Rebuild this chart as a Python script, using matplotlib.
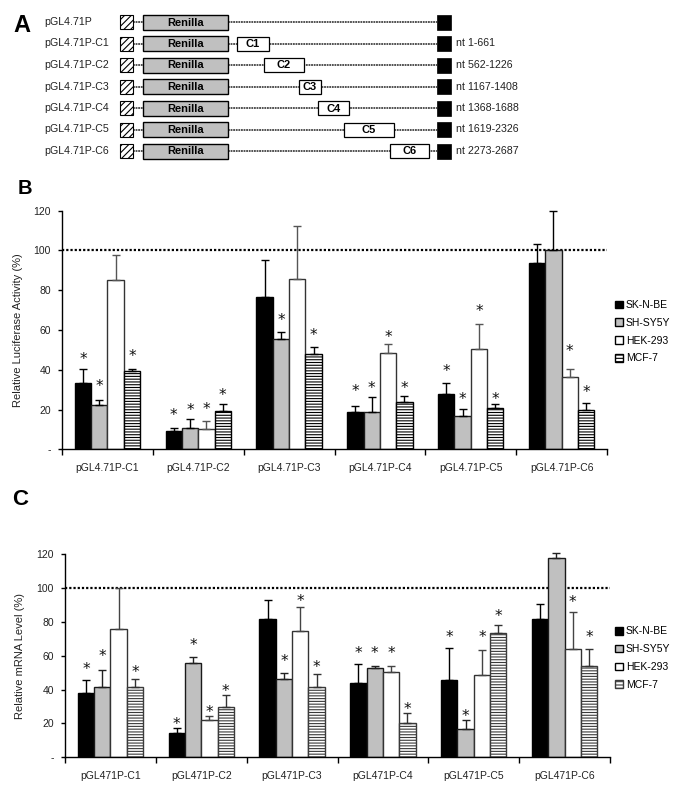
import numpy as np
import matplotlib
matplotlib.use("Agg")
import matplotlib.pyplot as plt
from matplotlib.patches import Rectangle, Patch

plt.rcParams['font.family'] = ['Liberation Sans', 'DejaVu Sans']
plt.rcParams['hatch.linewidth'] = 0.8

# ---------------- data ----------------
constructs = ['pGL4.71P', 'pGL4.71P-C1', 'pGL4.71P-C2', 'pGL4.71P-C3',
              'pGL4.71P-C4', 'pGL4.71P-C5', 'pGL4.71P-C6']
insert_names = ['', 'C1', 'C2', 'C3', 'C4', 'C5', 'C6']
nt_ranges = ['', 'nt 1-661', 'nt 562-1226', 'nt 1167-1408',
             'nt 1368-1688', 'nt 1619-2326', 'nt 2273-2687']
# schematic extents of the inserts (schematic units)
insert_start = [None, 237, 264, 299, 318, 344, 390]
insert_end = [None, 269, 304, 321, 349, 394, 429]

groups = ['pGL4.71P-C1', 'pGL4.71P-C2', 'pGL4.71P-C3',
          'pGL4.71P-C4', 'pGL4.71P-C5', 'pGL4.71P-C6']
groups_c = ['pGL471P-C1', 'pGL471P-C2', 'pGL471P-C3',
            'pGL471P-C4', 'pGL471P-C5', 'pGL471P-C6']
cell_lines = ['SK-N-BE', 'SH-SY5Y', 'HEK-293', 'MCF-7']
yticks = [0, 20, 40, 60, 80, 100, 120]
ytick_labels = ['-', '20', '40', '60', '80', '100', '120']

# Panel B: relative luciferase activity (%)
luc_sknbe = [33.5, 9.5, 76.7, 19.0, 28.0, 93.5]
luc_shsy5y = [22.3, 10.8, 55.3, 19.0, 16.8, 100.0]
luc_hek = [85.0, 10.3, 85.5, 48.3, 50.3, 36.3]
luc_mcf = [39.3, 19.3, 47.8, 24.0, 20.8, 19.7]
luc_sknbe_err = [7.2, 1.3, 18.6, 2.8, 5.5, 9.8]
luc_shsy5y_err = [2.4, 4.5, 3.9, 7.5, 3.5, 19.7]
luc_hek_err = [12.5, 4.0, 27.0, 4.5, 13.0, 4.0]
luc_mcf_err = [1.4, 3.5, 3.7, 2.8, 2.2, 3.8]
# asterisk levels (nan = no asterisk)
nan = np.nan
luc_sknbe_star = [47.5, 19.2, nan, 31.3, 41.7, nan]
luc_shsy5y_star = [34.0, 22.0, 67.2, 33.0, 27.7, nan]
luc_hek_star = [nan, 22.5, nan, 58.5, 71.7, 51.7]
luc_mcf_star = [49.0, 29.6, 59.5, 33.0, 27.7, 30.8]

# Panel C: relative mRNA level (%)
mrna_sknbe = [38.3, 14.1, 81.5, 44.0, 45.6, 81.5]
mrna_shsy5y = [41.7, 56.0, 46.2, 52.7, 16.5, 117.9]
mrna_hek = [76.0, 22.2, 74.5, 50.5, 48.5, 63.9]
mrna_mcf = [41.7, 30.0, 41.3, 20.2, 73.7, 53.8]
mrna_sknbe_err = [7.5, 3.4, 11.6, 11.0, 19.2, 8.9]
mrna_shsy5y_err = [9.8, 3.5, 3.7, 1.1, 5.3, 3.0]
mrna_hek_err = [24.0, 2.4, 14.5, 3.3, 14.8, 21.8]
mrna_mcf_err = [4.7, 7.0, 7.8, 6.1, 4.7, 10.4]
mrna_sknbe_star = [54.5, 22.4, nan, 63.9, 73.5, nan]
mrna_shsy5y_star = [62.3, 68.8, 59.3, 63.9, 27.1, nan]
mrna_hek_star = [nan, 29.5, 95.0, 63.9, 73.5, 94.1]
mrna_mcf_star = [53.0, 41.7, 55.8, 31.2, 86.2, 73.5]

# ---------------- figure ----------------
W, H = 685, 796
fig = plt.figure(figsize=(W / 100, H / 100), dpi=100)


def fx(px):
    return px / W


def fy(py):
    return 1 - py / H


# ---------- Panel A ----------
axA = fig.add_axes([0, fy(175), 1, 175 / H])
axA.set_xlim(0, W)
axA.set_ylim(175, 0)
axA.axis('off')
row0, drow = 22.0, 21.5
narrow = ['Liberation Sans Narrow', 'Liberation Sans']
for i, name in enumerate(constructs):
    y = row0 + drow * i
    axA.text(44, y, name, ha='left', va='center', fontsize=7.7, color='#222222')
    # dotted connectors
    axA.plot([133, 143], [y, y], color='#222222', lw=1.1, ls=(0, (1.2, 0.5)), zorder=1)
    axA.plot([228, 437], [y, y], color='#222222', lw=1.1, ls=(0, (1.2, 0.5)), zorder=1)
    # hatched promoter square
    axA.add_patch(Rectangle((120, y - 7), 13, 14, facecolor='white',
                            edgecolor='black', hatch='/////', lw=0.8, zorder=2))
    # Renilla box
    axA.add_patch(Rectangle((143, y - 7.5), 85, 15, facecolor='#C0C0C0',
                            edgecolor='black', lw=1, zorder=2))
    axA.text(185.5, y + 0.5, 'Renilla', ha='center', va='center', fontsize=8,
             fontweight='bold', family=narrow, zorder=3)
    # insert box
    if insert_start[i] is not None:
        x0, x1 = insert_start[i], insert_end[i]
        axA.add_patch(Rectangle((x0, y - 7), x1 - x0, 14, facecolor='white',
                                edgecolor='black', lw=0.9, zorder=2))
        axA.text((x0 + x1) / 2, y + 0.5, insert_names[i], ha='center', va='center',
                 fontsize=8, fontweight='bold', family=narrow, zorder=3)
    # black terminator square
    axA.add_patch(Rectangle((437, y - 7.5), 14, 15, facecolor='black',
                            edgecolor='black', lw=0.5, zorder=2))
    if nt_ranges[i]:
        axA.text(456, y, nt_ranges[i], ha='left', va='center', fontsize=7.7,
                 color='#222222')

fig.text(fx(13), fy(31.5), 'A', fontsize=17, fontweight='bold', ha='left', va='baseline')
fig.text(fx(17.5), fy(194.5), 'B', fontsize=14.5, fontweight='bold', ha='left', va='baseline')
fig.text(fx(12), fy(505), 'C', fontsize=16, fontweight='bold', ha='left', va='baseline')


def bar_panel(ax, series, errs, stars, labels, ylabel, mcf_hatch_color, err_colors):
    n = len(labels)
    centers = np.arange(n) + 0.5
    w = 0.18
    styles = [dict(facecolor='black', edgecolor='black'),
              dict(facecolor='#C0C0C0', edgecolor='#1a1a1a'),
              dict(facecolor='white', edgecolor='#333333'),
              dict(facecolor='white', edgecolor=mcf_hatch_color, hatch='------')]
    for k, (vals, er, st) in enumerate(zip(series, errs, stars)):
        xs = centers + (k - 1.5) * w
        ax.bar(xs, vals, width=w, lw=1, zorder=2, **styles[k])
        ax.errorbar(xs, vals, yerr=[np.zeros(n), er], fmt='none', ecolor=err_colors[k],
                    elinewidth=1, capsize=2.6, capthick=1, zorder=3, clip_on=False)
        for x, s in zip(xs, st):
            if not np.isnan(s):
                ax.annotate('*', xy=(x, s), xytext=(0, -6.6), textcoords='offset points',
                            ha='center', va='baseline', fontsize=11,
                            family='DejaVu Sans', color='#111111')
    ax.axhline(100, color='black', lw=1.6, ls=(0, (1, 0.9)), zorder=1)
    ax.set_xlim(0, n)
    ax.set_ylim(0, 120)
    ax.set_yticks(yticks)
    ax.set_yticklabels(ytick_labels, fontsize=7.5, color='#222222')
    ax.set_xticks(np.arange(n + 1))
    ax.set_xticklabels([])
    ax.set_xticks(centers, minor=True)
    ax.set_xticklabels(labels, minor=True, fontsize=7.5, color='#222222')
    ax.tick_params(axis='x', which='major', length=4, width=1, direction='out')
    ax.tick_params(axis='x', which='minor', length=0, pad=10)
    ax.tick_params(axis='y', length=3, width=1, direction='out', pad=5)
    for sp in ['top', 'right']:
        ax.spines[sp].set_visible(False)
    for sp in ['left', 'bottom']:
        ax.spines[sp].set_linewidth(1)
    ax.set_ylabel(ylabel, fontsize=8, color='#222222')


# ---------- Panel B ----------
axB = fig.add_axes([fx(62), fy(449.5), fx(607) - fx(62), (449.5 - 210.7) / H])
bar_panel(axB,
          [luc_sknbe, luc_shsy5y, luc_hek, luc_mcf],
          [luc_sknbe_err, luc_shsy5y_err, luc_hek_err, luc_mcf_err],
          [luc_sknbe_star, luc_shsy5y_star, luc_hek_star, luc_mcf_star],
          groups, 'Relative Luciferase Activity (%)', 'black',
          ['black', 'black', '#555555', 'black'])
axB.yaxis.set_label_coords(-(62 - 23.3) / (607 - 62), 0.5)

# ---------- Panel C ----------
axC = fig.add_axes([fx(65), fy(757.3), fx(610) - fx(65), (757.3 - 554.3) / H])
bar_panel(axC,
          [mrna_sknbe, mrna_shsy5y, mrna_hek, mrna_mcf],
          [mrna_sknbe_err, mrna_shsy5y_err, mrna_hek_err, mrna_mcf_err],
          [mrna_sknbe_star, mrna_shsy5y_star, mrna_hek_star, mrna_mcf_star],
          groups_c, 'Relative mRNA Level (%)', '#3a3a3a',
          ['black', '#222222', '#444444', '#333333'])
axC.yaxis.set_label_coords(-(65 - 25) / (610 - 65), 0.5)


def legend(ax, hatch_color, top_px):
    handles = [Patch(facecolor='black', edgecolor='black'),
               Patch(facecolor='#C0C0C0', edgecolor='black'),
               Patch(facecolor='white', edgecolor='black'),
               Patch(facecolor='white', edgecolor=hatch_color, hatch='-----')]
    fig.legend(handles, cell_lines, loc='upper left',
               bbox_to_anchor=(fx(615), fy(top_px)), frameon=False, fontsize=7.5,
               handlelength=0.75, handleheight=0.75, handletextpad=0.3,
               labelspacing=0.75, borderpad=0, borderaxespad=0)


legend(axB, 'black', 300)
legend(axC, '#3a3a3a', 626.5)

fig.savefig('out.png', dpi=100)
